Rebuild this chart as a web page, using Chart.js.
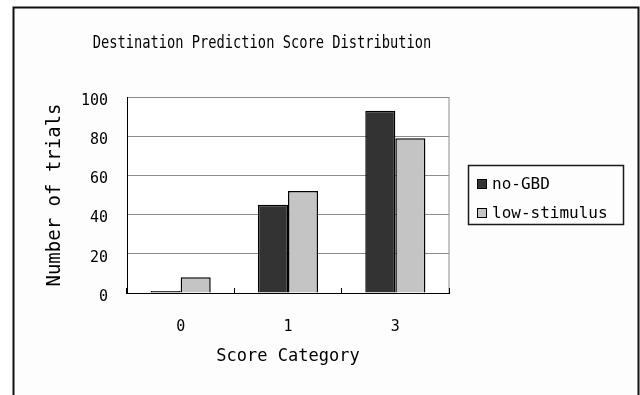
<!DOCTYPE html>
<html>
<head>
<meta charset="utf-8">
<script src="https://cdn.jsdelivr.net/npm/chart.js@4/dist/chart.umd.min.js"></script>
<style>
  html, body { margin: 0; padding: 0; background: #ffffff; }
  #wrap { width: 640px; height: 395px; position: relative; }
</style>
</head>
<body>
<div id="wrap"><canvas id="c" width="640" height="395"></canvas></div>
<script>
// Score categories and trial counts per condition
const categories = ['0', '1', '3'];
const noGBD = [1, 45, 93];
const lowStimulus = [8, 52, 79];
const yTicks = [0, 20, 40, 60, 80, 100];

const chartTitle = 'Destination Prediction Score Distribution';
const xTitle = 'Score Category';
const yTitle = 'Number of trials';

const MONO = '"DejaVu Sans Mono", "Liberation Mono", monospace';

// Outer frame, plot-area border, title and boxed legend
const decor = {
  id: 'decor',
  beforeDraw(chart) {
    const ctx = chart.ctx;
    const a = chart.chartArea;
    ctx.save();
    ctx.fillStyle = '#ffffff';
    ctx.fillRect(0, 0, chart.width, chart.height);
    ctx.fillStyle = '#fdfdfd';
    ctx.fillRect(14, 8, 625, chart.height);
    ctx.strokeStyle = '#111111';
    ctx.lineWidth = 2;
    ctx.beginPath();
    ctx.moveTo(13.5, chart.height + 2);
    ctx.lineTo(13.5, 7.5);
    ctx.lineTo(638.5, 7.5);
    ctx.lineTo(638.5, chart.height + 2);
    ctx.stroke();
    ctx.fillStyle = '#ffffff';
    ctx.fillRect(a.left, a.top, a.right - a.left, a.bottom - a.top);
    ctx.strokeStyle = '#8c8c8c';
    ctx.lineWidth = 1;
    ctx.strokeRect(a.left + 0.5, a.top + 0.5, a.right - a.left - 0.5, a.bottom - a.top);
    ctx.restore();
  },
  afterDraw(chart) {
    const ctx = chart.ctx;
    ctx.save();
    ctx.fillStyle = '#000000';
    ctx.font = '14px ' + MONO;
    ctx.textAlign = 'center';
    ctx.textBaseline = 'middle';
    // slightly tall, narrow title lettering
    ctx.save();
    ctx.translate(262, 44);
    ctx.scale(0.98, 1.2);
    ctx.fillText(chartTitle, 0, 0);
    ctx.restore();

    // legend box
    const bx = 468.5, by = 165.5, bw = 155, bh = 59;
    ctx.strokeStyle = '#1a1a1a';
    ctx.lineWidth = 1.5;
    ctx.strokeRect(bx, by, bw, bh);
    ctx.font = '16px ' + MONO;
    ctx.textAlign = 'left';
    const rows = [184, 213];
    chart.data.datasets.forEach((ds, i) => {
      const cy = rows[i];
      ctx.fillStyle = ds.backgroundColor;
      ctx.fillRect(477, cy - 5, 10, 10);
      ctx.strokeStyle = '#000000';
      ctx.lineWidth = 1;
      ctx.strokeRect(477.5, cy - 4.5, 9, 9);
      ctx.fillStyle = '#000000';
      ctx.fillText(ds.label, 492, cy + 1);
    });
    ctx.restore();
  }
};

new Chart(document.getElementById('c'), {
  type: 'bar',
  data: {
    labels: categories,
    datasets: [
      { label: 'no-GBD', data: noGBD, backgroundColor: '#333333', borderColor: '#000000', borderWidth: 1.5 },
      { label: 'low-stimulus', data: lowStimulus, backgroundColor: '#c4c4c4', borderColor: '#000000', borderWidth: 1.5 }
    ]
  },
  options: {
    responsive: false,
    animation: false,
    devicePixelRatio: 1,
    layout: { padding: { left: 0, right: 191, top: 97, bottom: 0 } },
    datasets: { bar: { categoryPercentage: 0.56, barPercentage: 1.0 } },
    plugins: {
      legend: { display: false },
      title: { display: false },
      tooltip: { enabled: false }
    },
    scales: {
      x: {
        offset: true,
        grid: { offset: true, drawOnChartArea: false, drawTicks: true, tickLength: -5, color: '#000000', lineWidth: 1 },
        border: { display: true, color: '#000000', width: 1 },
        ticks: { color: '#000000', font: { family: MONO, size: 15 }, padding: 30 },
        title: { display: true, text: xTitle, color: '#000000', font: { family: MONO, size: 17 }, padding: { top: 0, bottom: 28 } },
        afterFit(scale) { scale.height = 102; }
      },
      y: {
        min: 0,
        max: 100,
        afterBuildTicks(scale) { scale.ticks = yTicks.map(v => ({ value: v })); },
        grid: { color: '#8c8c8c', lineWidth: 1, drawTicks: false },
        border: { display: true, color: '#000000', width: 1 },
        ticks: { color: '#000000', font: { family: MONO, size: 15 }, padding: 19, labelOffset: 4 },
        title: { display: true, text: yTitle, color: '#000000', font: { family: MONO, size: 19 }, padding: { top: 44, bottom: 0 } },
        afterFit(scale) { scale.width = 127; }
      }
    }
  },
  plugins: [decor]
});
</script>
</body>
</html>
